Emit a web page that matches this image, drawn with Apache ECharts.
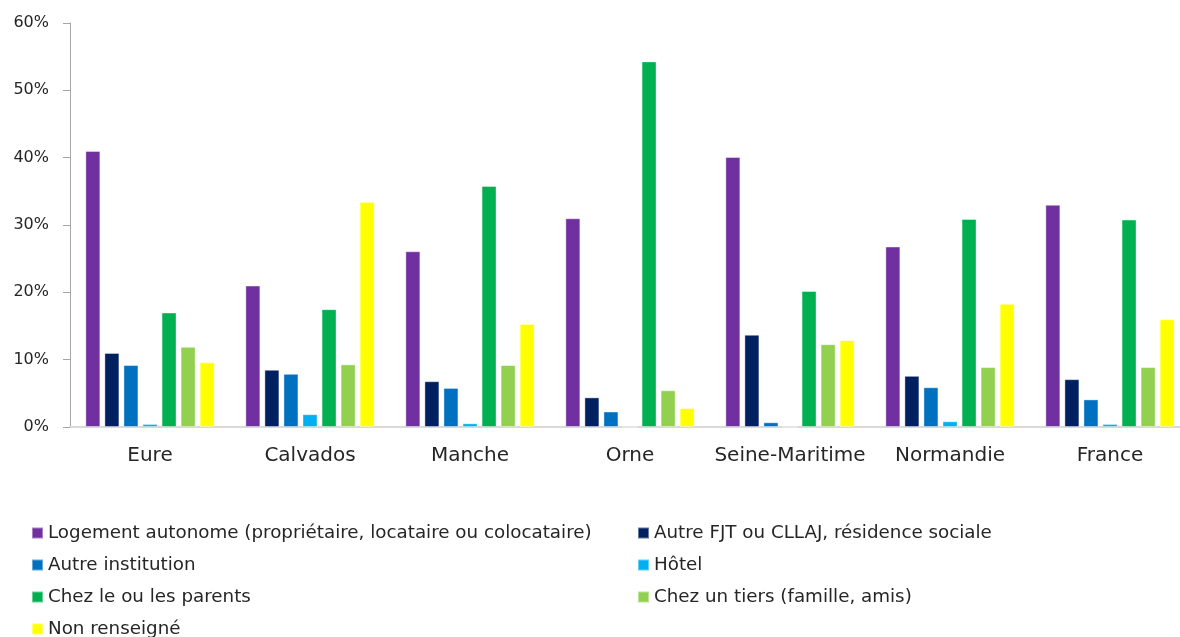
<!DOCTYPE html>
<html lang="fr">
<head>
    <meta charset="UTF-8" />
    <title>Situation de logement</title>
    <script src="https://cdn.jsdelivr.net/npm/echarts@6/dist/echarts.min.js"></script>
    <style>
        html, body { margin: 0; padding: 0; background: #fff; }
        #main { width: 1180px; height: 637px; }
    </style>
</head>
<body>
<div id="main"></div>
<script>
// categories (territoires)
let categories = ['Eure', 'Calvados', 'Manche', 'Orne', 'Seine-Maritime', 'Normandie', 'France'];

// valeurs en %
let logementAutonome = [41.0, 21.0, 26.1, 31.0, 40.1, 26.8, 33.0];
let autreFjt = [11.0, 8.5, 6.8, 4.4, 13.7, 7.6, 7.1];
let autreInstitution = [9.2, 7.9, 5.8, 2.3, 0.7, 5.9, 4.1];
let hotel = [0.45, 1.9, 0.55, 0, 0, 0.85, 0.45];
let chezParents = [17.0, 17.5, 35.8, 54.3, 20.2, 30.9, 30.8];
let chezTiers = [11.9, 9.3, 9.2, 5.45, 12.3, 8.9, 8.9];
let nonRenseigne = [9.6, 33.4, 15.3, 2.8, 12.9, 18.3, 16.0];

let seriesNames = [
    'Logement autonome (propriétaire, locataire ou colocataire)',
    'Autre FJT ou CLLAJ, résidence sociale',
    'Autre institution',
    'Hôtel',
    'Chez le ou les parents',
    'Chez un tiers (famille, amis)',
    'Non renseigné'
];
let seriesData = [logementAutonome, autreFjt, autreInstitution, hotel, chezParents, chezTiers, nonRenseigne];
let colors = ['#7030A0', '#002060', '#0070C0', '#00B0F0', '#00B050', '#92D050', '#FFFF00'];

let font = 'DejaVu Sans';

let myChart = echarts.init(document.getElementById('main'));

let legendStyle = {
    orient: 'vertical',
    top: 524,
    height: 160,
    padding: 0,
    itemGap: 14,
    itemWidth: 11,
    itemHeight: 11,
    icon: 'rect',
    textStyle: {
        fontFamily: font,
        fontSize: 18.3,
        color: '#262626'
    }
};

myChart.setOption({
    animation: false,
    color: colors,
    grid: {
        left: 70,
        right: -10,
        top: 23,
        bottom: 210,
        outerBoundsMode: 'none'
    },
    legend: [
        Object.assign({ left: 31, data: [seriesNames[0], seriesNames[2], seriesNames[4], seriesNames[6]] }, legendStyle),
        Object.assign({ left: 637, data: [seriesNames[1], seriesNames[3], seriesNames[5]] }, legendStyle)
    ],
    xAxis: {
        type: 'category',
        data: categories,
        axisLine: { lineStyle: { color: '#d9d9d9', width: 2 } },
        axisTick: { show: false },
        axisLabel: {
            interval: 0,
            margin: 19,
            fontFamily: font,
            fontSize: 20,
            color: '#262626'
        }
    },
    yAxis: {
        type: 'value',
        min: 0,
        max: 60,
        interval: 10,
        splitLine: { show: false },
        axisLine: { show: true, lineStyle: { color: '#a6a6a6' } },
        axisTick: { show: true, length: 7, lineStyle: { color: '#a6a6a6' } },
        axisLabel: {
            margin: 21,
            formatter: '{value}%',
            fontFamily: font,
            fontSize: 16,
            color: '#262626'
        }
    },
    series: seriesNames.map(function (name, i) {
        return {
            name: name,
            type: 'bar',
            data: seriesData[i],
            barWidth: 15,
            barGap: '27%',
            itemStyle: { borderColor: 'rgba(255,255,255,0.4)', borderWidth: 1 }
        };
    })
});
</script>
</body>
</html>
